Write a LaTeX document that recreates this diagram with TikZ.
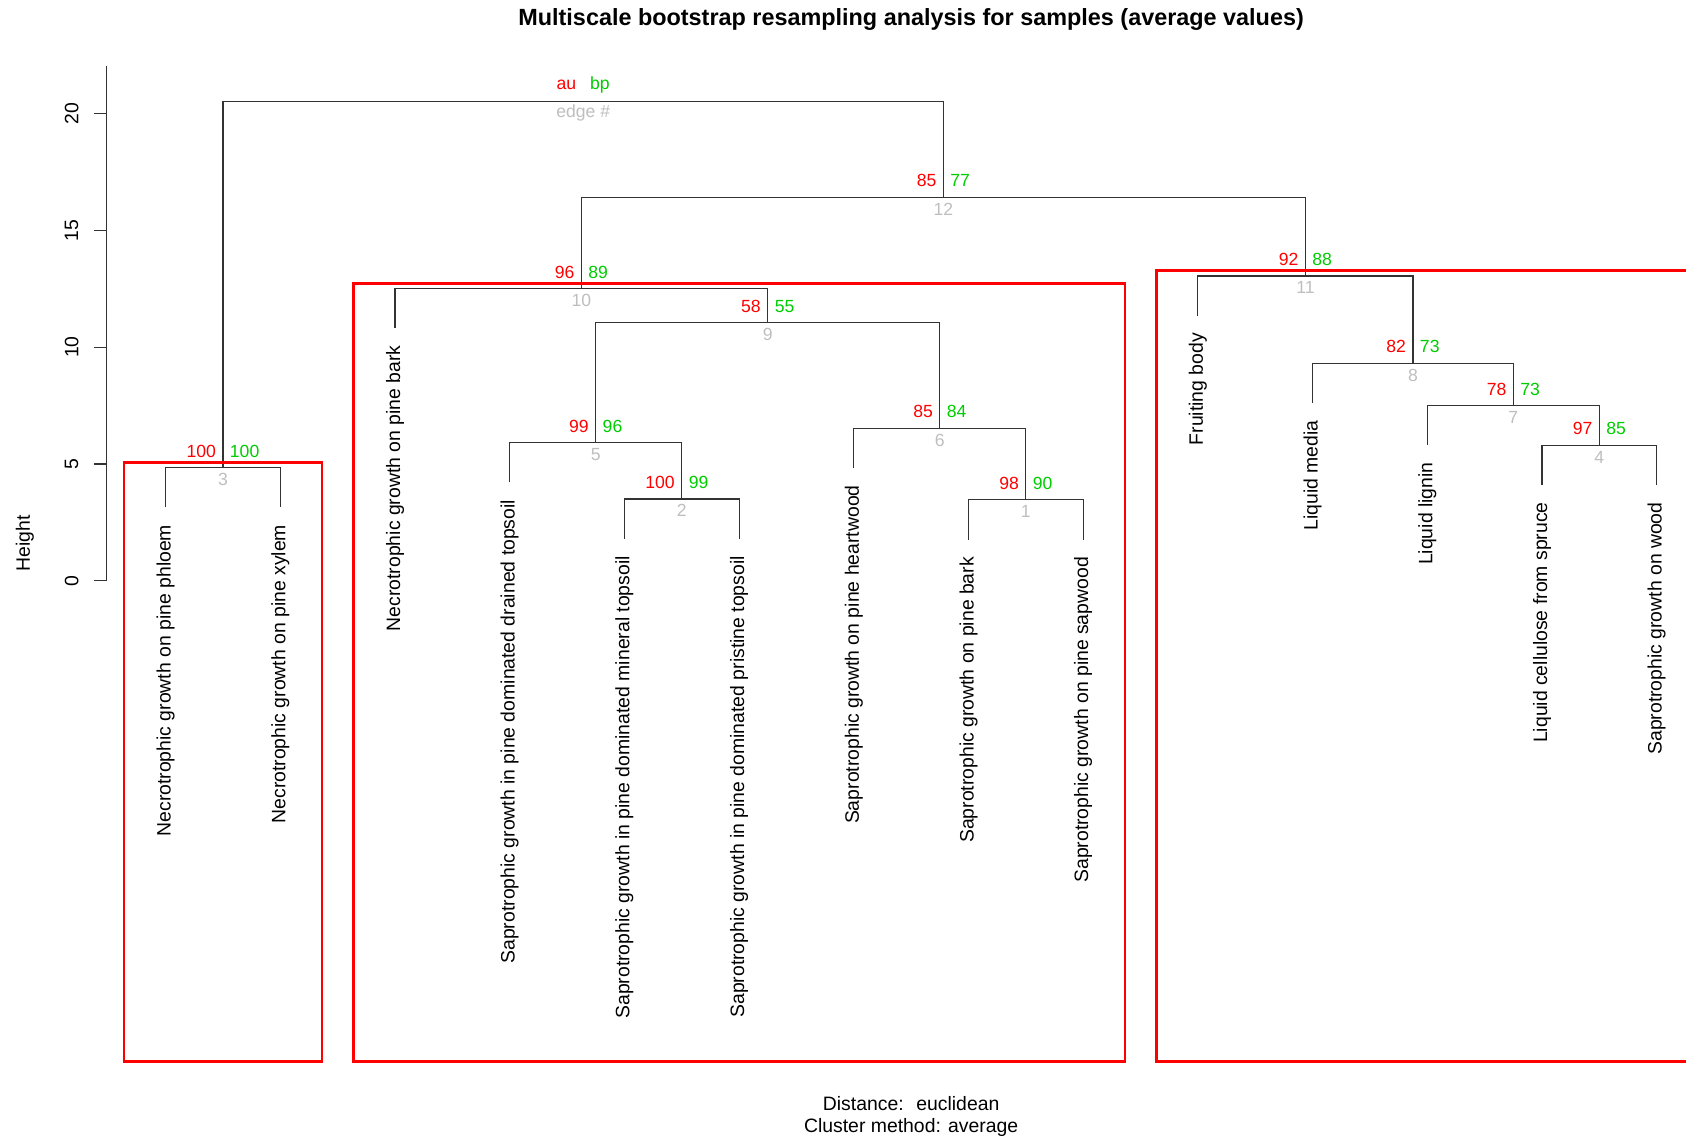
\documentclass[tikz,border=0pt]{standalone}
\usepackage{fontspec}
\setmainfont{Liberation Sans}
\definecolor{pvred}{HTML}{FF0000}
\definecolor{pvgreen}{HTML}{00CD00}
\definecolor{pvgray}{HTML}{BEBEBE}

\begin{document}
\begin{tikzpicture}[
  x=57.35pt, y=11.675pt,
  br/.style={draw=black!80, line width=0.55pt},
  leaf/.style={rotate=90, anchor=east, inner xsep=8.5pt, inner ysep=0pt, font=\fontsize{9.7}{11.6}\selectfont},
  au/.style={text=pvred, anchor=east, inner sep=0pt, xshift=-3.3pt, yshift=8.2pt, font=\fontsize{8.8}{10.5}\selectfont},
  bp/.style={text=pvgreen, anchor=west, inner sep=0pt, xshift=3.3pt, yshift=8.2pt, font=\fontsize{8.8}{10.5}\selectfont},
  edgeno/.style={text=pvgray, inner sep=0pt, yshift=-5.9pt, font=\fontsize{8.8}{10.5}\selectfont},
  clrect/.style={draw=pvred, line width=1.4pt},
  axlbl/.style={rotate=90, inner sep=0pt, font=\fontsize{9.7}{11.6}\selectfont}
]
\useasboundingbox (-0.4438,-23.868) rectangle (14.2555,24.870);

% merge points (x = mean of children, y = height)
\coordinate (n1)   at (8.5,3.46);
\coordinate (n2)   at (5.5,3.50);
\coordinate (n3)   at (1.5,4.84);
\coordinate (n4)   at (13.5,5.80);
\coordinate (n5)   at (4.75,5.91);
\coordinate (n6)   at (7.75,6.53);
\coordinate (n7)   at (12.75,7.51);
\coordinate (n8)   at (11.875,9.31);
\coordinate (n9)   at (6.25,11.05);
\coordinate (n10)  at (4.625,12.52);
\coordinate (n11)  at (10.9375,13.05);
\coordinate (n12)  at (7.78125,16.43);
\coordinate (root) at (4.640625,20.53);

% leaf ends
\coordinate (l1)  at (1,3.14);
\coordinate (l2)  at (2,3.14);
\coordinate (l3)  at (3,10.82);
\coordinate (l4)  at (4,4.21);
\coordinate (l5)  at (5,1.80);
\coordinate (l6)  at (6,1.80);
\coordinate (l7)  at (7,4.83);
\coordinate (l8)  at (8,1.76);
\coordinate (l9)  at (9,1.76);
\coordinate (l10) at (10,11.35);
\coordinate (l11) at (11,7.61);
\coordinate (l12) at (12,5.81);
\coordinate (l13) at (13,4.10);
\coordinate (l14) at (14,4.10);

% tree
\draw[br] (l8) |- (n1) -| (l9);
\draw[br] (l5) |- (n2) -| (l6);
\draw[br] (l1) |- (n3) -| (l2);
\draw[br] (l13) |- (n4) -| (l14);
\draw[br] (l4) |- (n5) -| (n2);
\draw[br] (l7) |- (n6) -| (n1);
\draw[br] (l12) |- (n7) -| (n4);
\draw[br] (l11) |- (n8) -| (n7);
\draw[br] (n5) |- (n9) -| (n6);
\draw[br] (l3) |- (n10) -| (n9);
\draw[br] (l10) |- (n11) -| (n8);
\draw[br] (n10) |- (n12) -| (n11);
\draw[br] (n3) |- (root) -| (n12);

% leaf labels
\node[leaf] (t1)  at (l1)  {Necrotrophic growth on pine phloem};
\node[leaf] (t2)  at (l2)  {Necrotrophic growth on pine xylem};
\node[leaf] (t3)  at (l3)  {Necrotrophic growth on pine bark};
\node[leaf] (t4)  at (l4)  {Saprotrophic growth in pine dominated drained topsoil};
\node[leaf] (t5)  at (l5)  {Saprotrophic growth in pine dominated mineral topsoil};
\node[leaf] (t6)  at (l6)  {Saprotrophic growth in pine dominated pristine topsoil};
\node[leaf] (t7)  at (l7)  {Saprotrophic growth on pine heartwood};
\node[leaf] (t8)  at (l8)  {Saprotrophic growth on pine bark};
\node[leaf] (t9)  at (l9)  {Saprotrophic growth on pine sapwood};
\node[leaf] (t10) at (l10) {Fruiting body};
\node[leaf] (t11) at (l11) {Liquid media};
\node[leaf] (t12) at (l12) {Liquid lignin};
\node[leaf] (t13) at (l13) {Liquid cellulose from spruce};
\node[leaf] (t14) at (l14) {Saprotrophic growth on wood};

% au / bp / edge numbers
\node[au] (au1)  at (n1)  {98};  \node[bp] (bp1)  at (n1)  {90}; \node[edgeno] (e1)  at (n1)  {1};
\node[au] (au2)  at (n2)  {100}; \node[bp] (bp2)  at (n2)  {99}; \node[edgeno] (e2)  at (n2)  {2};
\node[au] (au3)  at (n3)  {100}; \node[bp] (bp3)  at (n3)  {100};\node[edgeno] (e3)  at (n3)  {3};
\node[au] (au4)  at (n4)  {97};  \node[bp] (bp4)  at (n4)  {85}; \node[edgeno] (e4)  at (n4)  {4};
\node[au] (au5)  at (n5)  {99};  \node[bp] (bp5)  at (n5)  {96}; \node[edgeno] (e5)  at (n5)  {5};
\node[au] (au6)  at (n6)  {85};  \node[bp] (bp6)  at (n6)  {84}; \node[edgeno] (e6)  at (n6)  {6};
\node[au] (au7)  at (n7)  {78};  \node[bp] (bp7)  at (n7)  {73}; \node[edgeno] (e7)  at (n7)  {7};
\node[au] (au8)  at (n8)  {82};  \node[bp] (bp8)  at (n8)  {73}; \node[edgeno] (e8)  at (n8)  {8};
\node[au] (au9)  at (n9)  {58};  \node[bp] (bp9)  at (n9)  {55}; \node[edgeno] (e9)  at (n9)  {9};
\node[au] (au10) at (n10) {96};  \node[bp] (bp10) at (n10) {89}; \node[edgeno] (e10) at (n10) {10};
\node[au] (au11) at (n11) {92};  \node[bp] (bp11) at (n11) {88}; \node[edgeno] (e11) at (n11) {11};
\node[au] (au12) at (n12) {85};  \node[bp] (bp12) at (n12) {77}; \node[edgeno] (e12) at (n12) {12};
\node[au] (aulg) at (root) {au}; \node[bp] (bplg) at (root) {bp}; \node[edgeno] (elg) at (root) {edge \#};

% clusters with high au
\draw[clrect] (0.637,-20.58) rectangle (2.363,5.07);
\draw[clrect] (2.636,-20.58) rectangle (9.364,12.74);
\draw[clrect] (9.639,-20.58) rectangle (14.6,13.28);

% axis
\draw[br] (0.4865,0) -- (0.4865,22.05);
\foreach \h in {0,5,10,15,20}
  \draw[br] (0.4865,\h) -- (0.3785,\h) node[axlbl] at (0.181,\h) {\h};
\node[axlbl] (ylab) at (-0.226,1.59) {Height};

% titles
\node[inner sep=0pt, font=\bfseries\fontsize{11.7}{14}\selectfont] (title) at (7.5,24.05)
  {Multiscale bootstrap resampling analysis for samples (average values)};
\node[inner sep=0pt, font=\fontsize{9.7}{11.6}\selectfont] (sub1) at (7.5,-22.41) {Distance:~ euclidean};
\node[inner sep=0pt, font=\fontsize{9.7}{11.6}\selectfont] (sub2) at (7.5,-23.40) {Cluster method: average};
\end{tikzpicture}
\end{document}
